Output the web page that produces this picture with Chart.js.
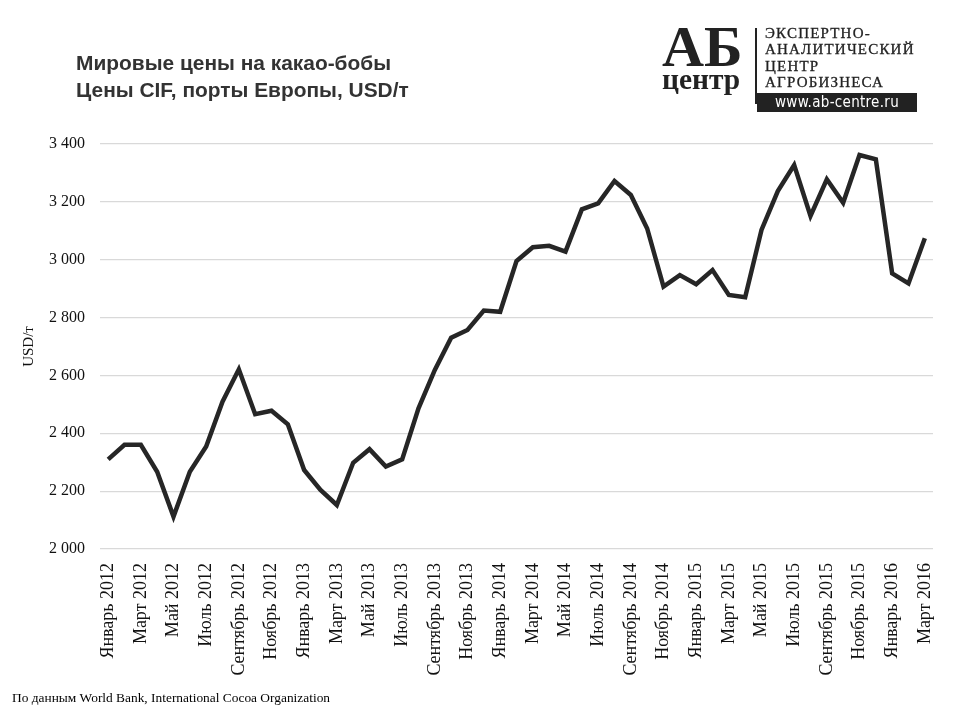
<!DOCTYPE html>
<html>
<head>
<meta charset="utf-8">
<script src="https://cdn.jsdelivr.net/npm/chart.js@4/dist/chart.umd.min.js"></script>
<style>
  body { margin: 0; background: #fff; }
  #wrap { position: relative; width: 960px; height: 720px; overflow: hidden; }
  #myChart { position: absolute; left: 0; top: 0; }
  .title { position: absolute; left: 76px; top: 50px; font: bold 20px "Liberation Sans", Arial, sans-serif; line-height: 27px; color: #333; transform: scaleX(1.045); transform-origin: left top; white-space: nowrap; }
  .logo-ab { position: absolute; left: 662px; top: 19px; font: bold 56px "Liberation Serif", serif; color: #222; transform: scaleX(1.04); transform-origin: left top; line-height: 56px; }
  .logo-c { position: absolute; left: 662px; top: 64px; font: bold 30px "Liberation Serif", serif; color: #222; transform: scaleX(0.98); transform-origin: left top; line-height: 30px; }
  .logo-bar { position: absolute; left: 755px; top: 28px; width: 2px; height: 76px; background: #222; }
  .logo-txt { position: absolute; left: 765px; top: 25px; font: 15px "Liberation Serif", serif; letter-spacing: 1.2px; line-height: 16.3px; color: #222; -webkit-text-stroke: 0.3px #222; }
  .logo-url { position: absolute; left: 757px; top: 93px; width: 160px; height: 19px; background: #222; color: #fff; font: 15px "DejaVu Sans Condensed", "DejaVu Sans", sans-serif; line-height: 19px; text-align: center; letter-spacing: 0.3px; }
  .note { position: absolute; left: 12px; top: 690px; font: 13px "Liberation Serif", serif; color: #000; transform: scaleX(1.03); transform-origin: left top; white-space: nowrap; }
</style>
</head>
<body>
<div id="wrap">
  <canvas id="myChart" width="960" height="720"></canvas>
  <div class="title">Мировые цены на какао-бобы<br>Цены CIF, порты Европы, USD/т</div>
  <div class="logo-ab">АБ</div>
  <div class="logo-c">центр</div>
  <div class="logo-bar"></div>
  <div class="logo-txt">ЭКСПЕРТНО-<br>АНАЛИТИЧЕСКИЙ<br>ЦЕНТР<br>АГРОБИЗНЕСА</div>
  <div class="logo-url">www.ab-centre.ru</div>
  <div class="note">По данным World Bank, International Cocoa Organization</div>
</div>
<script>
document.addEventListener("DOMContentLoaded", function () {
    const months = ['Январь', 'Февраль', 'Март', 'Апрель', 'Май', 'Июнь',
        'Июль', 'Август', 'Сентябрь', 'Октябрь', 'Ноябрь', 'Декабрь'];
    const years = [2012, 2013, 2014, 2015, 2016];

    // Jan 2012 .. Mar 2016
    const labels = [];
    years.forEach(function (y) {
        months.forEach(function (m, i) {
            if (y < 2016 || i < 3) labels.push(m + ' ' + y);
        });
    });

    const prices2012 = [2310, 2360, 2360, 2267, 2112, 2267, 2354, 2509, 2621, 2466, 2478, 2431];
    const prices2013 = [2273, 2204, 2152, 2298, 2345, 2285, 2310, 2486, 2619, 2730, 2757, 2824];
    const prices2014 = [2820, 2995, 3043, 3048, 3028, 3174, 3195, 3272, 3224, 3108, 2907, 2947];
    const prices2015 = [2915, 2964, 2878, 2870, 3103, 3237, 3327, 3151, 3278, 3197, 3362, 3347];
    const prices2016 = [2953, 2918, 3074];
    const prices = prices2012.concat(prices2013, prices2014, prices2015, prices2016);

    const data = {
        labels: labels,
        datasets: [{
            label: 'USD/т',
            data: prices,
            borderColor: '#262626',
            borderWidth: 4.5,
            borderJoinStyle: 'miter',
            pointRadius: 0,
            tension: 0,
            fill: false,
        }]
    }
    const config = {
        type: 'line',
        data: data,
        options: {
            responsive: false,
            animation: false,
            devicePixelRatio: 1,
            layout: { padding: { top: 144, left: 20, right: 27, bottom: 0 } },
            plugins: { legend: { display: false }, tooltip: { enabled: false } },
            scales: {
                x: {
                    offset: true,
                    grid: { display: false },
                    border: { display: false },
                    afterFit: function (s) { s.height = 171; },
                    ticks: {
                        autoSkip: false,
                        maxRotation: 90,
                        minRotation: 90,
                        padding: 6,
                        color: '#111',
                        font: { family: 'Liberation Serif', size: 18 },
                        callback: function (v, i) { return i % 2 === 0 ? labels[i] : ''; }
                    }
                },
                y: {
                    min: 2000,
                    max: 3400,
                    afterFit: function (s) { s.width = 80; },
                    grid: { color: '#d9d9d9', lineWidth: 1.2, drawTicks: false },
                    border: { display: false },
                    title: {
                        display: true,
                        text: 'USD/т',
                        color: '#111',
                        padding: 0,
                        font: { family: 'Liberation Serif', size: 15 }
                    },
                    ticks: {
                        stepSize: 200,
                        padding: 15,
                        color: '#111',
                        font: { family: 'Liberation Serif', size: 16 },
                        callback: function (v) { return String(v).replace(/\B(?=(\d{3})+(?!\d))/g, ' '); }
                    }
                }
            }
        }
    }
    new Chart(document.getElementById('myChart'), config);
})
</script>
</body>
</html>
